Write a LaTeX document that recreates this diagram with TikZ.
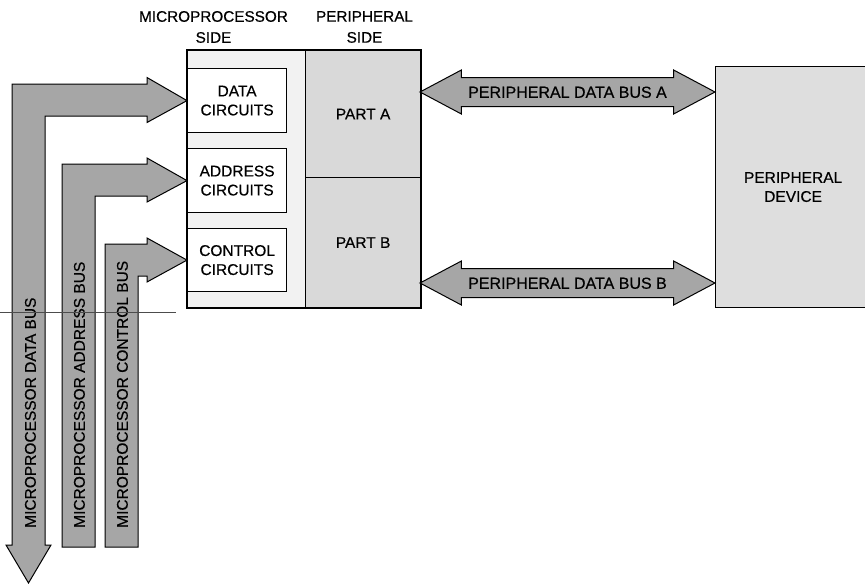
\documentclass[tikz,border=0pt]{standalone}
\usepackage{fontspec}
\setmainfont{Liberation Sans}[FakeBold=0.5]
\usetikzlibrary{shapes.arrows, positioning, calc}
\tikzset{
	box/.style={rectangle, draw=black, line width=1.2pt, inner sep=0pt, align=center,
		font=\fontsize{15.5}{19}\selectfont, anchor=north west},
	circbox/.style={box, fill=white, minimum width=99pt},
	partbox/.style={box, fill=black!15, minimum width=115pt},
	busarrow/.style={double arrow, draw=black, line width=1pt, fill=black!35,
		double arrow tip angle=56, double arrow head extend=7.5pt, double arrow head indent=0pt,
		inner xsep=0pt, inner ysep=8.25pt, text height=11.5pt, text depth=0pt,
		font=\fontsize{16}{19}\selectfont},
	busfill/.style={draw=black, line width=1pt, fill=black!35, line join=miter},
	buslabel/.style={font=\fontsize{15.5}{19}\selectfont, rotate=90, anchor=west, inner sep=0pt,
		text height=11.5pt, text depth=0pt},
	headlabel/.style={font=\fontsize{15.3}{21}\selectfont, align=center},
}
\begin{document}
\begin{tikzpicture}[x=1pt,y=-1pt]
	\useasboundingbox (0,0) rectangle (865,584);
	% interface sides
	\node[box, fill=black!5, minimum width=118pt, minimum height=257pt] (mpside) at (187,50) {};
	\node[partbox, minimum height=127pt] (partA) at (305,50) {PART A};
	\node[partbox, minimum height=130pt] (partB) at (305,177) {PART B};
	\draw[line width=1.6pt] (mpside.north west) rectangle (partB.south east);
	\node[headlabel] (hdmp) at (213.5,27) {MICROPROCESSOR\\SIDE};
	\node[headlabel] (hdper) at (364.5,27) {PERIPHERAL\\SIDE};
	% circuits
	\node[circbox, minimum height=64pt] (datac) at (187,68) {DATA\\CIRCUITS};
	\node[circbox, minimum height=64pt] (addrc) at (187,148) {ADDRESS\\CIRCUITS};
	\node[circbox, minimum height=63pt] (ctrlc) at (187,228) {CONTROL\\CIRCUITS};
	% peripheral device
	\node[box, fill=black!13, minimum width=155pt, minimum height=241pt] (dev) at (715,66) {PERIPHERAL\\DEVICE};
	% peripheral buses
	\node[busarrow, minimum height=295pt] (busA) at (567.5,92) {PERIPHERAL DATA BUS A};
	\node[busarrow, minimum height=295pt] (busB) at (567.5,283) {PERIPHERAL DATA BUS B};
	% microprocessor buses
	\draw[busfill] (28.5,583) -- (51,545) -- (45,545) -- (45,116) -- (147,116) -- (147,122.5)
		-- (datac.west) -- (147,77.5) -- (147,84) -- (12,84) -- (12,545) -- (6,545) -- cycle;
	\draw[busfill] (62,547) -- (95,547) -- (95,196) -- (147,196) -- (147,202)
		-- (addrc.west) -- (147,158) -- (147,164) -- (62,164) -- cycle;
	\draw[busfill] (105,547) -- (138,547) -- (138,276) -- (147,276) -- (147,282)
		-- (ctrlc.west) -- (147,238) -- (147,244) -- (105,244) -- cycle;
	\node[buslabel] (lbdata) at (30,528) {MICROPROCESSOR DATA BUS};
	\node[buslabel] (lbaddr) at (79,528) {MICROPROCESSOR ADDRESS BUS};
	\node[buslabel] (lbctrl) at (122,528) {MICROPROCESSOR CONTROL BUS};
	\draw[line width=0.6pt, black!70] (0,312) -- (176,312);
\end{tikzpicture}
\end{document}
